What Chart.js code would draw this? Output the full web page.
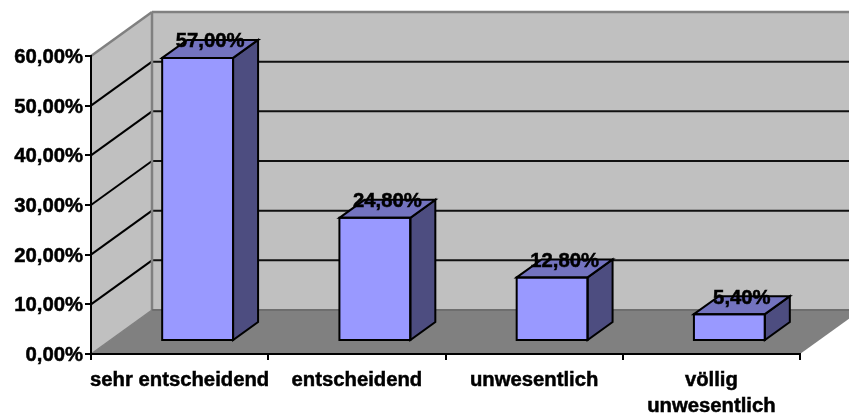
<!DOCTYPE html>
<html>
<head>
<meta charset="utf-8">
<style>html,body{margin:0;padding:0;background:#fff;overflow:hidden}canvas{display:block}</style>
<script src="https://cdn.jsdelivr.net/npm/chart.js@4/dist/chart.umd.min.js"></script>
</head>
<body>
<canvas id="c" width="849" height="418"></canvas>
<script>
const categories = ["sehr entscheidend", "entscheidend", "unwesentlich", ["völlig", "unwesentlich"]];
const shares = [57.0, 24.8, 12.8, 5.4];
const axisMin = 0, axisMax = 60, axisStep = 10;

const fontFamily = '"Liberation Sans", Arial, sans-serif';
const fontSize = 20.3;
const wall = {dx: 61, dy: 44};
const barShift = {dx: 18, dy: 13};
const barDepth = {dx: 25, dy: 18};
const pct = v => v.toFixed(2).replace('.', ',') + '%';

function poly(ctx, pts, fill, stroke, lw) {
  ctx.beginPath();
  pts.forEach((p, i) => i ? ctx.lineTo(p[0], p[1]) : ctx.moveTo(p[0], p[1]));
  ctx.closePath();
  if (fill) { ctx.fillStyle = fill; ctx.fill(); }
  if (stroke) { ctx.strokeStyle = stroke; ctx.lineWidth = lw; ctx.lineJoin = 'miter'; ctx.stroke(); }
}
function seg(ctx, x1, y1, x2, y2, color, lw) {
  ctx.beginPath(); ctx.moveTo(x1, y1); ctx.lineTo(x2, y2);
  ctx.strokeStyle = color; ctx.lineWidth = lw; ctx.stroke();
}

const room = {
  id: 'room',
  beforeDraw(chart) {
    const {ctx, chartArea: a, scales: {y}} = chart;
    const bl = a.left + wall.dx, tp = a.top - wall.dy, bb = a.bottom - wall.dy, br = a.right + wall.dx;
    ctx.save();
    poly(ctx, [[bl, tp], [br, tp], [br, bb], [bl, bb]], '#C0C0C0');
    poly(ctx, [[a.left, a.top], [bl, tp], [bl, bb], [a.left, a.bottom]], '#C0C0C0');
    poly(ctx, [[a.left, a.bottom], [bl, bb], [br, bb], [a.right, a.bottom]], '#808080');
    for (let v = axisMin + axisStep; v < axisMax; v += axisStep) {
      const p = y.getPixelForValue(v);
      seg(ctx, a.left, p, bl, p - wall.dy, '#000', 2);
      seg(ctx, bl, p - wall.dy, br, p - wall.dy, '#111', 2);
    }
    seg(ctx, a.left, a.top, bl, tp, '#808080', 2.5);
    seg(ctx, bl, tp, br, tp, '#808080', 2.5);
    seg(ctx, bl, tp, bl, bb, '#808080', 2.5);
    seg(ctx, bl, bb, br, bb, '#6e6e6e', 2);
    seg(ctx, a.left, a.bottom, bl, bb, '#808080', 1.5);
    ctx.restore();
  },
  beforeDatasetDraw(chart) {
    chart.ctx.save();
    chart.ctx.translate(barShift.dx, -barShift.dy);
  },
  afterDatasetDraw(chart) { chart.ctx.restore(); },
  afterDatasetsDraw(chart) {
    const ctx = chart.ctx;
    ctx.save();
    chart.getDatasetMeta(0).data.forEach(b => {
      const l = b.x - b.width / 2 + barShift.dx, r = b.x + b.width / 2 + barShift.dx;
      const t = b.y - barShift.dy, bt = b.base - barShift.dy;
      const ddx = barDepth.dx, ddy = barDepth.dy;
      poly(ctx, [[r, t], [r + ddx, t - ddy], [r + ddx, bt - ddy], [r, bt]], '#4D4D80', '#000', 2);
      poly(ctx, [[l, t], [l + ddx, t - ddy], [r + ddx, t - ddy], [r, t]], '#7373BF', '#000', 2);
      poly(ctx, [[l, t], [r, t], [r, bt], [l, bt]], null, '#000', 2);
    });
    ctx.fillStyle = '#000';
    ctx.strokeStyle = '#000';
    ctx.lineWidth = 0.5;
    ctx.font = 'bold ' + fontSize + 'px ' + fontFamily;
    ctx.textAlign = 'center';
    ctx.textBaseline = 'middle';
    chart.getDatasetMeta(0).data.forEach((b, i) => {
      const tx = b.x + barShift.dx + barDepth.dx / 2, ty = b.y - barShift.dy - barDepth.dy + 2;
      ctx.fillText(pct(shares[i]), tx, ty);
      ctx.strokeText(pct(shares[i]), tx, ty);
    });
    ctx.restore();
  }
};

new Chart(document.getElementById('c'), {
  type: 'bar',
  data: {
    labels: categories,
    datasets: [{
      data: shares,
      backgroundColor: '#9999FF',
      borderWidth: 0,
      inflateAmount: 0,
      categoryPercentage: 1,
      barPercentage: 0.4
    }]
  },
  options: {
    responsive: false,
    animation: false,
    devicePixelRatio: 1,
    layout: {padding: {left: 0, top: 56, right: 49, bottom: 0}},
    plugins: {legend: {display: false}, title: {display: false}, tooltip: {enabled: false}},
    scales: {
      x: {
        afterFit(s) { s.height = 64; },
        border: {color: '#000', width: 2},
        grid: {drawOnChartArea: false, color: '#000', lineWidth: 2, tickLength: 6},
        ticks: {
          maxRotation: 0, minRotation: 0, autoSkip: false, color: '#000', padding: 7,
          textStrokeColor: '#000', textStrokeWidth: 0.5,
          font: {family: fontFamily, size: fontSize, weight: 'bold', lineHeight: 1.3}
        }
      },
      y: {
        min: axisMin, max: axisMax,
        afterFit(s) { s.width = 91; },
        border: {color: '#000', width: 2},
        grid: {drawOnChartArea: false, color: '#000', lineWidth: 2, tickLength: 6},
        ticks: {
          stepSize: axisStep, color: '#000', padding: 2, labelOffset: 1.5,
          textStrokeColor: '#000', textStrokeWidth: 0.5,
          font: {family: fontFamily, size: fontSize, weight: 'bold'},
          callback: v => pct(v)
        }
      }
    }
  },
  plugins: [room]
});
</script>
</body>
</html>
